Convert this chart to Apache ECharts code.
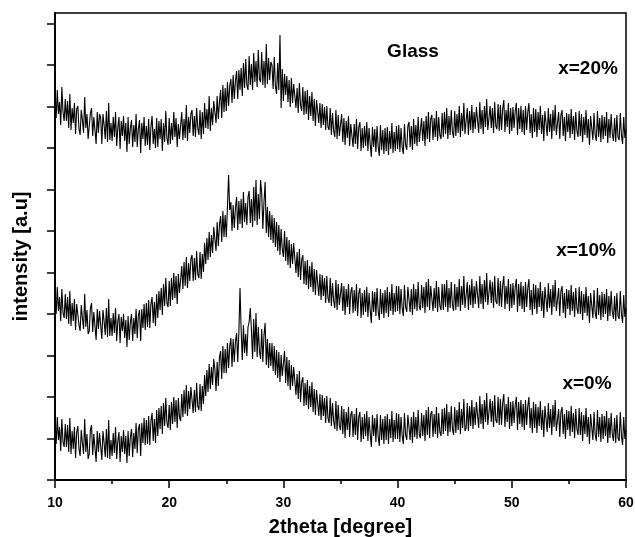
<!DOCTYPE html>
<html>
<head>
<meta charset="utf-8">
<script src="https://cdn.jsdelivr.net/npm/echarts@6/dist/echarts.min.js"></script>
<style>
  html, body { margin: 0; background: #fff; }
  #chart { width: 635px; height: 537px; }
</style>
</head>
<body>
<div id="chart"></div>
<script>
var chart = echarts.init(document.getElementById('chart'));

// scan grid: 10 -> 60 deg, 0.1 deg step
const angleStart = 10;
const angleStep = 0.1;

const xTicks = [10, 20, 30, 40, 50, 60];
const yTicks = [0, 41.5, 83, 124.5, 166, 207.5, 249, 290.5, 332, 373.5, 415, 456.5];

// intensity, one row per degree
const glass20 = [
  385,362,390,366,378,355,393,368,359,381,
  359,379,352,386,350,372,357,377,346,371,
  374,351,345,370,360,347,383,352,366,341,
  343,367,372,344,363,350,336,368,347,366,
  362,336,366,355,341,369,338,377,340,357,
  339,363,343,368,334,352,363,331,359,344,
  364,339,357,328,363,336,352,360,333,355,
  338,366,333,351,360,327,357,341,363,334,
  354,335,361,330,353,364,336,351,332,362,
  333,359,341,361,329,357,338,369,342,335,
  362,336,357,340,368,343,362,333,356,341,
  343,368,340,361,342,375,339,363,347,366,
  370,344,364,343,372,352,345,370,341,368,
  346,377,352,371,351,384,349,372,355,379,
  380,357,384,361,378,390,362,395,368,392,
  369,398,374,394,401,377,405,381,399,409,
  381,410,390,412,384,417,392,421,395,390,
  424,395,416,390,427,398,419,393,430,401,
  398,428,395,419,392,436,396,422,400,418,
  415,391,423,394,386,417,390,445,372,411,
  379,406,385,404,378,400,373,402,377,396,
  398,372,392,367,397,375,369,393,365,389,
  366,390,360,384,364,388,359,381,354,380,
  382,357,377,352,376,355,373,350,374,353,
  350,372,345,367,349,343,370,341,365,344,
  343,366,338,362,335,359,342,364,334,356,
  358,333,356,336,361,331,353,358,329,352,
  332,354,334,358,329,352,336,323,353,333,
  351,328,354,333,324,355,330,350,326,352,
  329,353,325,349,331,357,327,348,329,354,
  331,355,328,352,333,326,356,335,330,354,
  358,333,354,330,361,336,355,334,363,338,
  336,362,339,359,334,364,341,368,338,361,
  365,340,362,343,369,339,363,345,341,367,
  343,368,346,372,341,364,345,370,348,342,
  369,344,366,347,374,343,367,349,377,346,
  348,372,345,369,350,375,347,368,351,373,
  372,347,378,351,370,346,374,353,381,350,
  350,374,352,372,347,378,354,351,376,349,
  375,350,371,380,348,370,353,377,346,372,
  349,373,352,369,377,345,372,351,374,348,
  370,345,374,350,368,377,347,366,342,372,
  348,371,343,368,350,374,346,365,339,369,
  367,344,372,348,366,341,370,349,375,345,
  346,368,341,365,370,344,363,339,367,348,
  366,342,371,346,364,340,368,349,343,369,
  344,366,338,363,345,370,342,361,335,364,
  364,340,367,345,339,369,343,362,338,365,
  341,363,344,368,337,361,342,366,346,339,
  362,338,365,343,340,367,345,336,363,342,
  351
];

const glass10 = [
  189,166,193,169,183,159,191,167,162,186,
  161,183,156,189,154,177,159,181,150,176,
  178,155,149,175,162,151,186,153,170,146,
  149,172,177,148,168,154,140,171,151,169,
  167,141,170,159,145,172,143,181,144,162,
  144,167,147,172,139,159,166,137,163,149,
  166,142,160,133,164,140,158,166,139,162,
  146,171,142,165,170,139,171,152,176,150,
  177,153,180,152,176,183,157,178,154,186,
  162,189,170,192,165,196,174,202,177,173,
  199,174,202,180,207,182,204,176,206,187,
  187,214,191,218,194,223,192,217,199,221,
  225,199,222,200,229,206,202,228,201,226,
  208,237,216,242,220,248,223,245,227,253,
  251,229,258,234,255,264,238,269,243,265,
  243,273,305,270,278,249,275,252,272,283,
  250,279,256,281,252,288,258,277,255,283,
  289,257,281,253,293,259,300,255,286,261,
  300,287,251,278,298,247,273,243,269,240,
  265,237,262,233,258,229,255,225,251,231,
  223,249,219,243,215,240,212,236,216,237,
  235,207,228,203,231,200,220,225,196,219,
  195,220,191,214,193,218,188,211,185,210,
  211,184,206,180,205,184,202,177,204,182,
  177,202,174,197,179,172,200,170,196,175,
  173,197,169,194,165,191,173,196,166,188,
  193,167,190,169,196,164,187,192,162,187,
  165,190,168,193,163,187,170,157,189,168,
  188,164,192,169,160,191,166,187,162,190,
  167,193,163,188,169,196,165,187,168,194,
  169,194,166,191,172,164,195,173,168,193,
  193,168,191,165,196,171,191,169,198,173,
  170,195,172,193,167,198,173,201,170,194,
  195,169,192,172,199,168,193,174,170,196,
  170,196,173,200,168,192,172,198,175,169,
  196,170,193,173,201,169,194,175,204,172,
  173,198,170,195,175,201,172,194,176,199,
  198,172,204,176,196,171,200,178,207,175,
  175,200,177,198,172,204,179,176,202,174,
  199,173,195,204,171,194,176,201,169,196,
  172,197,175,193,201,168,196,174,198,171,
  194,168,198,173,192,201,170,190,165,196,
  171,195,166,192,173,198,169,189,162,193,
  192,168,197,172,191,165,195,173,200,169,
  169,192,164,189,194,167,187,162,191,171,
  190,165,195,169,188,163,192,172,166,193,
  166,189,160,186,167,193,164,184,157,187,
  187,162,190,167,161,192,165,185,160,188,
  163,186,166,191,159,184,164,189,168,161,
  184,159,187,164,161,189,166,157,185,163,
  172
];

const glass0 = [
  59,36,63,40,53,29,61,38,33,56,
  33,55,28,62,26,49,31,53,22,48,
  54,31,24,50,37,26,61,28,46,21,
  26,50,55,25,46,32,18,49,28,47,
  46,20,49,37,23,51,22,60,21,40,
  24,47,27,53,21,39,48,18,44,28,
  50,26,44,17,49,24,43,51,23,47,
  31,57,27,51,56,24,57,37,62,35,
  60,36,64,35,59,67,39,61,37,70,
  44,72,51,74,46,77,54,82,57,52,
  75,50,78,56,83,58,80,52,82,63,
  59,86,63,90,66,95,64,89,71,93,
  93,67,90,68,97,74,70,96,69,94,
  76,105,84,110,88,116,91,113,95,121,
  111,89,118,94,123,129,101,134,107,131,
  107,137,112,134,142,113,141,118,138,147,
  118,147,192,150,120,155,127,146,124,153,
  158,172,150,121,161,128,167,123,153,129,
  121,151,118,145,157,115,141,112,137,114,
  137,109,134,105,130,102,128,98,125,104,
  103,129,97,123,94,120,90,115,94,113,
  113,85,106,81,109,78,98,103,74,97,
  75,100,71,94,73,98,68,91,65,90,
  91,64,86,60,85,64,82,57,84,62,
  57,82,54,77,59,51,79,49,75,54,
  50,74,46,71,42,68,50,73,43,65,
  69,43,66,45,72,40,63,68,38,63,
  41,66,44,69,39,63,46,33,65,44,
  62,38,66,43,34,65,40,61,36,64,
  40,66,36,61,42,69,38,60,41,67,
  41,66,38,63,44,36,67,45,40,65,
  65,40,63,37,68,43,63,41,70,45,
  42,67,44,65,39,70,45,73,42,66,
  69,43,66,46,73,42,67,48,44,71,
  46,72,49,76,44,68,48,74,51,45,
  73,47,70,50,78,46,71,52,81,49,
  52,77,49,74,54,80,51,73,55,78,
  78,52,84,56,76,51,80,58,87,55,
  56,81,58,79,53,85,60,57,83,55,
  81,55,77,86,53,76,58,83,51,78,
  54,79,57,75,83,50,78,56,80,53,
  76,50,80,55,74,83,52,72,47,78,
  52,76,47,73,54,79,50,70,43,74,
  72,48,77,52,71,45,75,53,80,49,
  48,71,43,68,73,46,66,41,70,50,
  69,44,74,48,67,42,71,51,45,72,
  45,68,39,65,46,72,43,63,36,66,
  65,40,68,45,39,70,43,63,38,66,
  41,64,44,69,37,62,42,67,46,39,
  62,37,65,42,39,68,44,35,63,41,
  50
];

const labels = [
  { text: 'Glass', x: 413, y: 52 },
  { text: 'x=20%', x: 588, y: 69 },
  { text: 'x=10%', x: 586, y: 251 },
  { text: 'x=0%', x: 587, y: 384 }
];

const font = 'Liberation Sans, Arial, sans-serif';

const toPairs = (vals) => vals.map((v, i) => [angleStart + i * angleStep, v]);

const traceSeries = (vals) => ({
  type: 'line',
  data: toPairs(vals),
  showSymbol: false,
  symbol: 'none',
  silent: true,
  lineStyle: { width: 1.1, color: '#000' }
});

var option = {
  animation: false,
  backgroundColor: '#fff',
  grid: {
    left: 55,
    right: 9,
    top: 13,
    bottom: 57,
    outerBoundsMode: 'none',
    containLabel: false,
    show: true,
    borderColor: '#000',
    borderWidth: 1.5
  },
  xAxis: {
    type: 'value',
    min: xTicks[0],
    max: xTicks[xTicks.length - 1],
    interval: 10,
    name: '2theta [degree]',
    nameLocation: 'middle',
    nameGap: 37,
    nameTextStyle: { fontFamily: font, fontWeight: 'bold', fontSize: 20, color: '#000' },
    axisLine: { lineStyle: { color: '#000', width: 2 } },
    axisTick: { length: 8, lineStyle: { color: '#000', width: 1.5 } },
    minorTick: { show: true, splitNumber: 2, length: 4, lineStyle: { color: '#000', width: 1.5 } },
    axisLabel: { fontFamily: font, fontWeight: 'bold', fontSize: 14, color: '#000', margin: 16 },
    splitLine: { show: false }
  },
  yAxis: {
    type: 'value',
    min: 0,
    max: 467,
    name: 'intensity [a.u]',
    nameLocation: 'middle',
    nameGap: 24,
    nameTextStyle: { fontFamily: font, fontWeight: 'bold', fontSize: 20, color: '#000', padding: [0, 20, 0, 0] },
    axisLine: { lineStyle: { color: '#000', width: 2 } },
    axisTick: { customValues: yTicks, length: 8, lineStyle: { color: '#000', width: 1.5 } },
    axisLabel: { show: false },
    splitLine: { show: false }
  },
  graphic: labels.map(l => ({
    type: 'text',
    x: l.x,
    y: l.y,
    style: {
      text: l.text,
      fontFamily: font,
      fontWeight: 'bold',
      fontSize: 19,
      fill: '#000',
      align: 'center',
      verticalAlign: 'middle'
    }
  })),
  series: [traceSeries(glass20), traceSeries(glass10), traceSeries(glass0)]
};

chart.setOption(option);
</script>
</body>
</html>
